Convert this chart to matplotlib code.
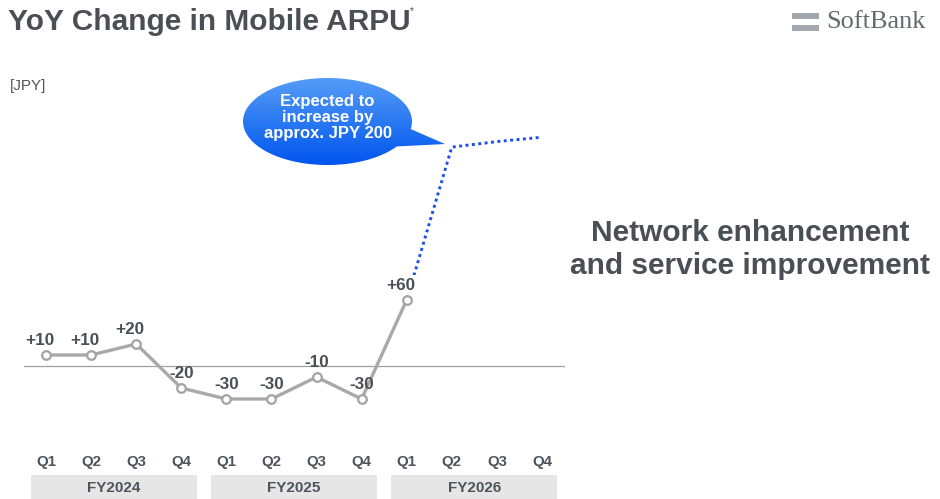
import numpy as np
import matplotlib
matplotlib.use("Agg")
import matplotlib.pyplot as plt
from matplotlib.patches import Rectangle, Polygon
from matplotlib.transforms import blended_transform_factory

plt.rcParams['font.family'] = ['Liberation Sans', 'DejaVu Sans']

# ---------------- data ----------------
quarters = ["Q1", "Q2", "Q3", "Q4"] * 3
fiscal_years = ["FY2024", "FY2025", "FY2026"]
actual = [10, 10, 20, -20, -30, -30, -10, -30, 60]          # FY2024 Q1 .. FY2026 Q1
forecast_quarters = [8, 9, 10, 11]                           # FY2026 Q1 .. Q4
forecast = [60, 199, 204, 208]
title = "YoY Change in Mobile ARPU"
unit_label = "[JPY]"
bubble_text = "Expected to\nincrease by\napprox. JPY 200"
side_text = "Network enhancement\nand service improvement"
brand = "SoftBank"

# ---------------- colours ----------------
TXT = "#4a4f55"
LINE = "#a9a9a9"
BLUE = "#1c4fe8"

W, H = 940, 499
fig = plt.figure(figsize=(W / 100, H / 100), dpi=100)

# decoration layer in pixel coordinates (y downward)
deco = fig.add_axes([0, 0, 1, 1], zorder=0)
deco.set_xlim(0, W)
deco.set_ylim(H, 0)
deco.axis("off")

# chart axes
ax = fig.add_axes([23.5 / W, 67 / H, 541 / W, 341 / H], zorder=1)
ax.set_facecolor("none")
ax.set_xlim(-0.5, 11.5)
ax.set_ylim(-60, 250)
for s in ax.spines.values():
    s.set_visible(False)
ax.set_xticks([])
ax.set_yticks([])
ax.axhline(0, color="#a0a0a0", lw=0.9, zorder=1)

x_act = np.arange(len(actual))
ax.plot(forecast_quarters, forecast, color=BLUE, lw=2.1,
        linestyle=(0, (1, 1.2)), dash_capstyle="butt", zorder=2)
ax.plot(x_act, actual, color=LINE, lw=2.4, zorder=3, solid_joinstyle="round")
ax.plot(x_act, actual, linestyle="none", marker="o", ms=6.2,
        mfc="white", mec="#a3a3a3", mew=1.6, zorder=4)

for i, v in enumerate(actual):
    txt = f"+{v}" if v > 0 else f"{v}"
    dx = -4.5 if v > 0 else 0
    kw = {}
    if i == len(actual) - 1:
        kw["bbox"] = dict(boxstyle="square,pad=0.15", fc="white", ec="none")
    ax.annotate(txt, (i, v), xytext=(dx, 10.5), textcoords="offset points",
                ha="center", va="center", fontsize=12.3, fontweight="bold",
                color=TXT, zorder=5, **kw)

# quarter labels and fiscal-year boxes
bt = blended_transform_factory(ax.transData, deco.transData)
for i, q in enumerate(quarters):
    deco.text(i, 462, q, transform=bt, ha="center", va="center",
              fontsize=10.8, fontweight="bold", color="#4d545b")
for g, fy in enumerate(fiscal_years):
    x0 = 4 * g - 0.34
    x1 = 4 * g + 3 + 0.34
    deco.add_patch(Rectangle((x0, 475), x1 - x0, 24, transform=bt,
                             facecolor="#e6e6e6", edgecolor="none", clip_on=False))
    deco.text((x0 + x1) / 2, 487.5, fy, transform=bt, ha="center", va="center",
              fontsize=11, fontweight="bold", color="#4d545b")

# title and labels
fig.text(8 / W, 1 - 30 / H, title, ha="left", va="baseline",
         fontsize=21.5, fontweight="bold", color=TXT)
fig.text(410 / W, 1 - 11 / H, "*", ha="left", va="center",
         fontsize=7, color=TXT)
fig.text(10 / W, 1 - 86 / H, unit_label, ha="left", va="center",
         fontsize=11, color="#555555")

fig.text(750 / W, 1 - 249.5 / H, side_text, ha="center", va="center",
         fontsize=21.5, fontweight="bold", color=TXT, linespacing=1.2)

# SoftBank logo
deco.add_patch(Rectangle((792, 13), 27, 6, facecolor="#a3a8ae", edgecolor="none"))
deco.add_patch(Rectangle((792, 25), 27, 6, facecolor="#a3a8ae", edgecolor="none"))
deco.text(826, 22, brand, ha="left", va="center", fontsize=19,
          family=["Liberation Serif", "DejaVu Serif"], color="#666a6e")

# speech bubble
cx, cy, a, b = 327.5, 121.5, 84.5, 43.5
th1, th2 = np.deg2rad(10), np.deg2rad(35)
t = np.linspace(th2, th1 + 2 * np.pi, 240)
pts = np.column_stack([cx + a * np.cos(t), cy + b * np.sin(t)])
pts = np.vstack([pts, [[445, 144]]])
poly = Polygon(pts, closed=True, facecolor="none", edgecolor="none")
deco.add_patch(poly)
grad = np.linspace(0, 1, 256)[:, None]
c_top = np.array([0x55, 0x9c, 0xf7]) / 255
c_bot = np.array([0x00, 0x55, 0xee]) / 255
img = (c_top[None, None, :] * (1 - grad[..., None]) + c_bot[None, None, :] * grad[..., None])
im = deco.imshow(img, extent=[cx - a, 446, cy + b, cy - b], aspect="auto",
                 interpolation="bilinear", zorder=2)
im.set_clip_path(poly)
deco.set_xlim(0, W)
deco.set_ylim(H, 0)
deco.text(cx, 117.5, bubble_text, ha="center", va="center", fontsize=12,
          fontweight="bold", color="white", linespacing=1.12, zorder=3)

fig.savefig("out.png", dpi=100)
